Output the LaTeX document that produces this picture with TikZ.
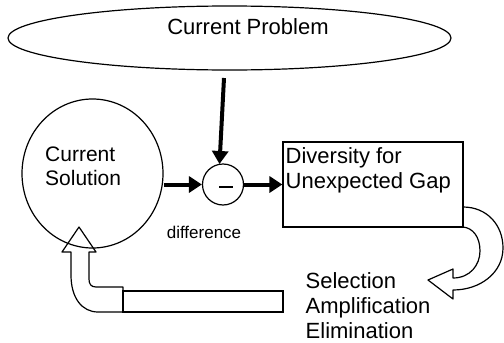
\documentclass[tikz,border=0pt]{standalone}
\usepackage{fontspec}
\setmainfont{Liberation Sans}
\usetikzlibrary{shapes.geometric,arrows.meta}
\begin{document}
\begin{tikzpicture}[x=1pt,y=-1pt,
  outline/.style={draw=black,line width=1.2pt},
  bigtxt/.style={font=\fontsize{22}{25}\selectfont,inner sep=0pt},
  smalltxt/.style={font=\fontsize{17}{20}\selectfont,inner sep=0pt},
  flow/.style={line width=4pt,-{Triangle[length=13pt,width=16pt]}},
  blockarrow/.style={draw=black,line width=1.2pt,line join=round}]
\useasboundingbox (0,0) rectangle (504,343);
% current problem
\node[outline,ellipse,minimum width=443,minimum height=64,inner sep=0pt] (prob) at (229.5,38) {};
\node[bigtxt] (probtxt) at (248,27) {Current Problem};
% current solution
\node[outline,ellipse,minimum width=141,minimum height=149,inner sep=0pt] (sol) at (92.5,173.5) {};
\node[bigtxt,anchor=west,align=left,font=\fontsize{21}{24}\selectfont] (soltxt) at (45,166) {Current\\Solution};
% minus comparator
\node[outline,circle,minimum size=41,inner sep=0pt] (minus) at (223,184.5) {};
\draw[line width=2.6pt] (219,187) -- (233,187);
% diversity box
\node[outline,rectangle,minimum width=180,minimum height=85,inner sep=0pt] (box) at (373,184.5) {};
\node[bigtxt,anchor=west,align=left] (boxtxt) at (285.5,170) {Diversity for\\Unexpected Gap};
% labels
\node[smalltxt] (diff) at (204,232) {difference};
\node[bigtxt,anchor=west,align=left] (sel) at (305.5,306) {Selection\\Amplification\\Elimination};
% flow arrows
\coordinate (topstart) at (224,78);
\coordinate (topend) at (219.5,164);
\draw[flow] (topstart) -- (topend);
\draw[flow] (minus.west -| sol.east) -- (minus.west);
\draw[flow] (minus.east) -- (box.west);
% right curved block arrow
\draw[blockarrow] (463,207) .. controls (487,207) and (503,225) .. (503,248)
  .. controls (503,273) and (480,290) .. (453,290) -- (453,299) -- (428,280)
  -- (453,269) -- (453,278) .. controls (470,278) and (480,265) .. (480,251)
  .. controls (480,237) and (473,228) .. (463,227);
% bottom rectangle
\draw[outline] (123,291) rectangle (283,312);
% bent up arrow
\draw[blockarrow] (123,287) -- (96,287) .. controls (91,287) and (89,284) .. (89,279)
  -- (89,252) -- (96,252) -- (79,227) -- (62,252) -- (71,252) -- (71,275)
  .. controls (71,298) and (82,312) .. (98,312) -- (123,312) -- cycle;
\end{tikzpicture}
\end{document}
